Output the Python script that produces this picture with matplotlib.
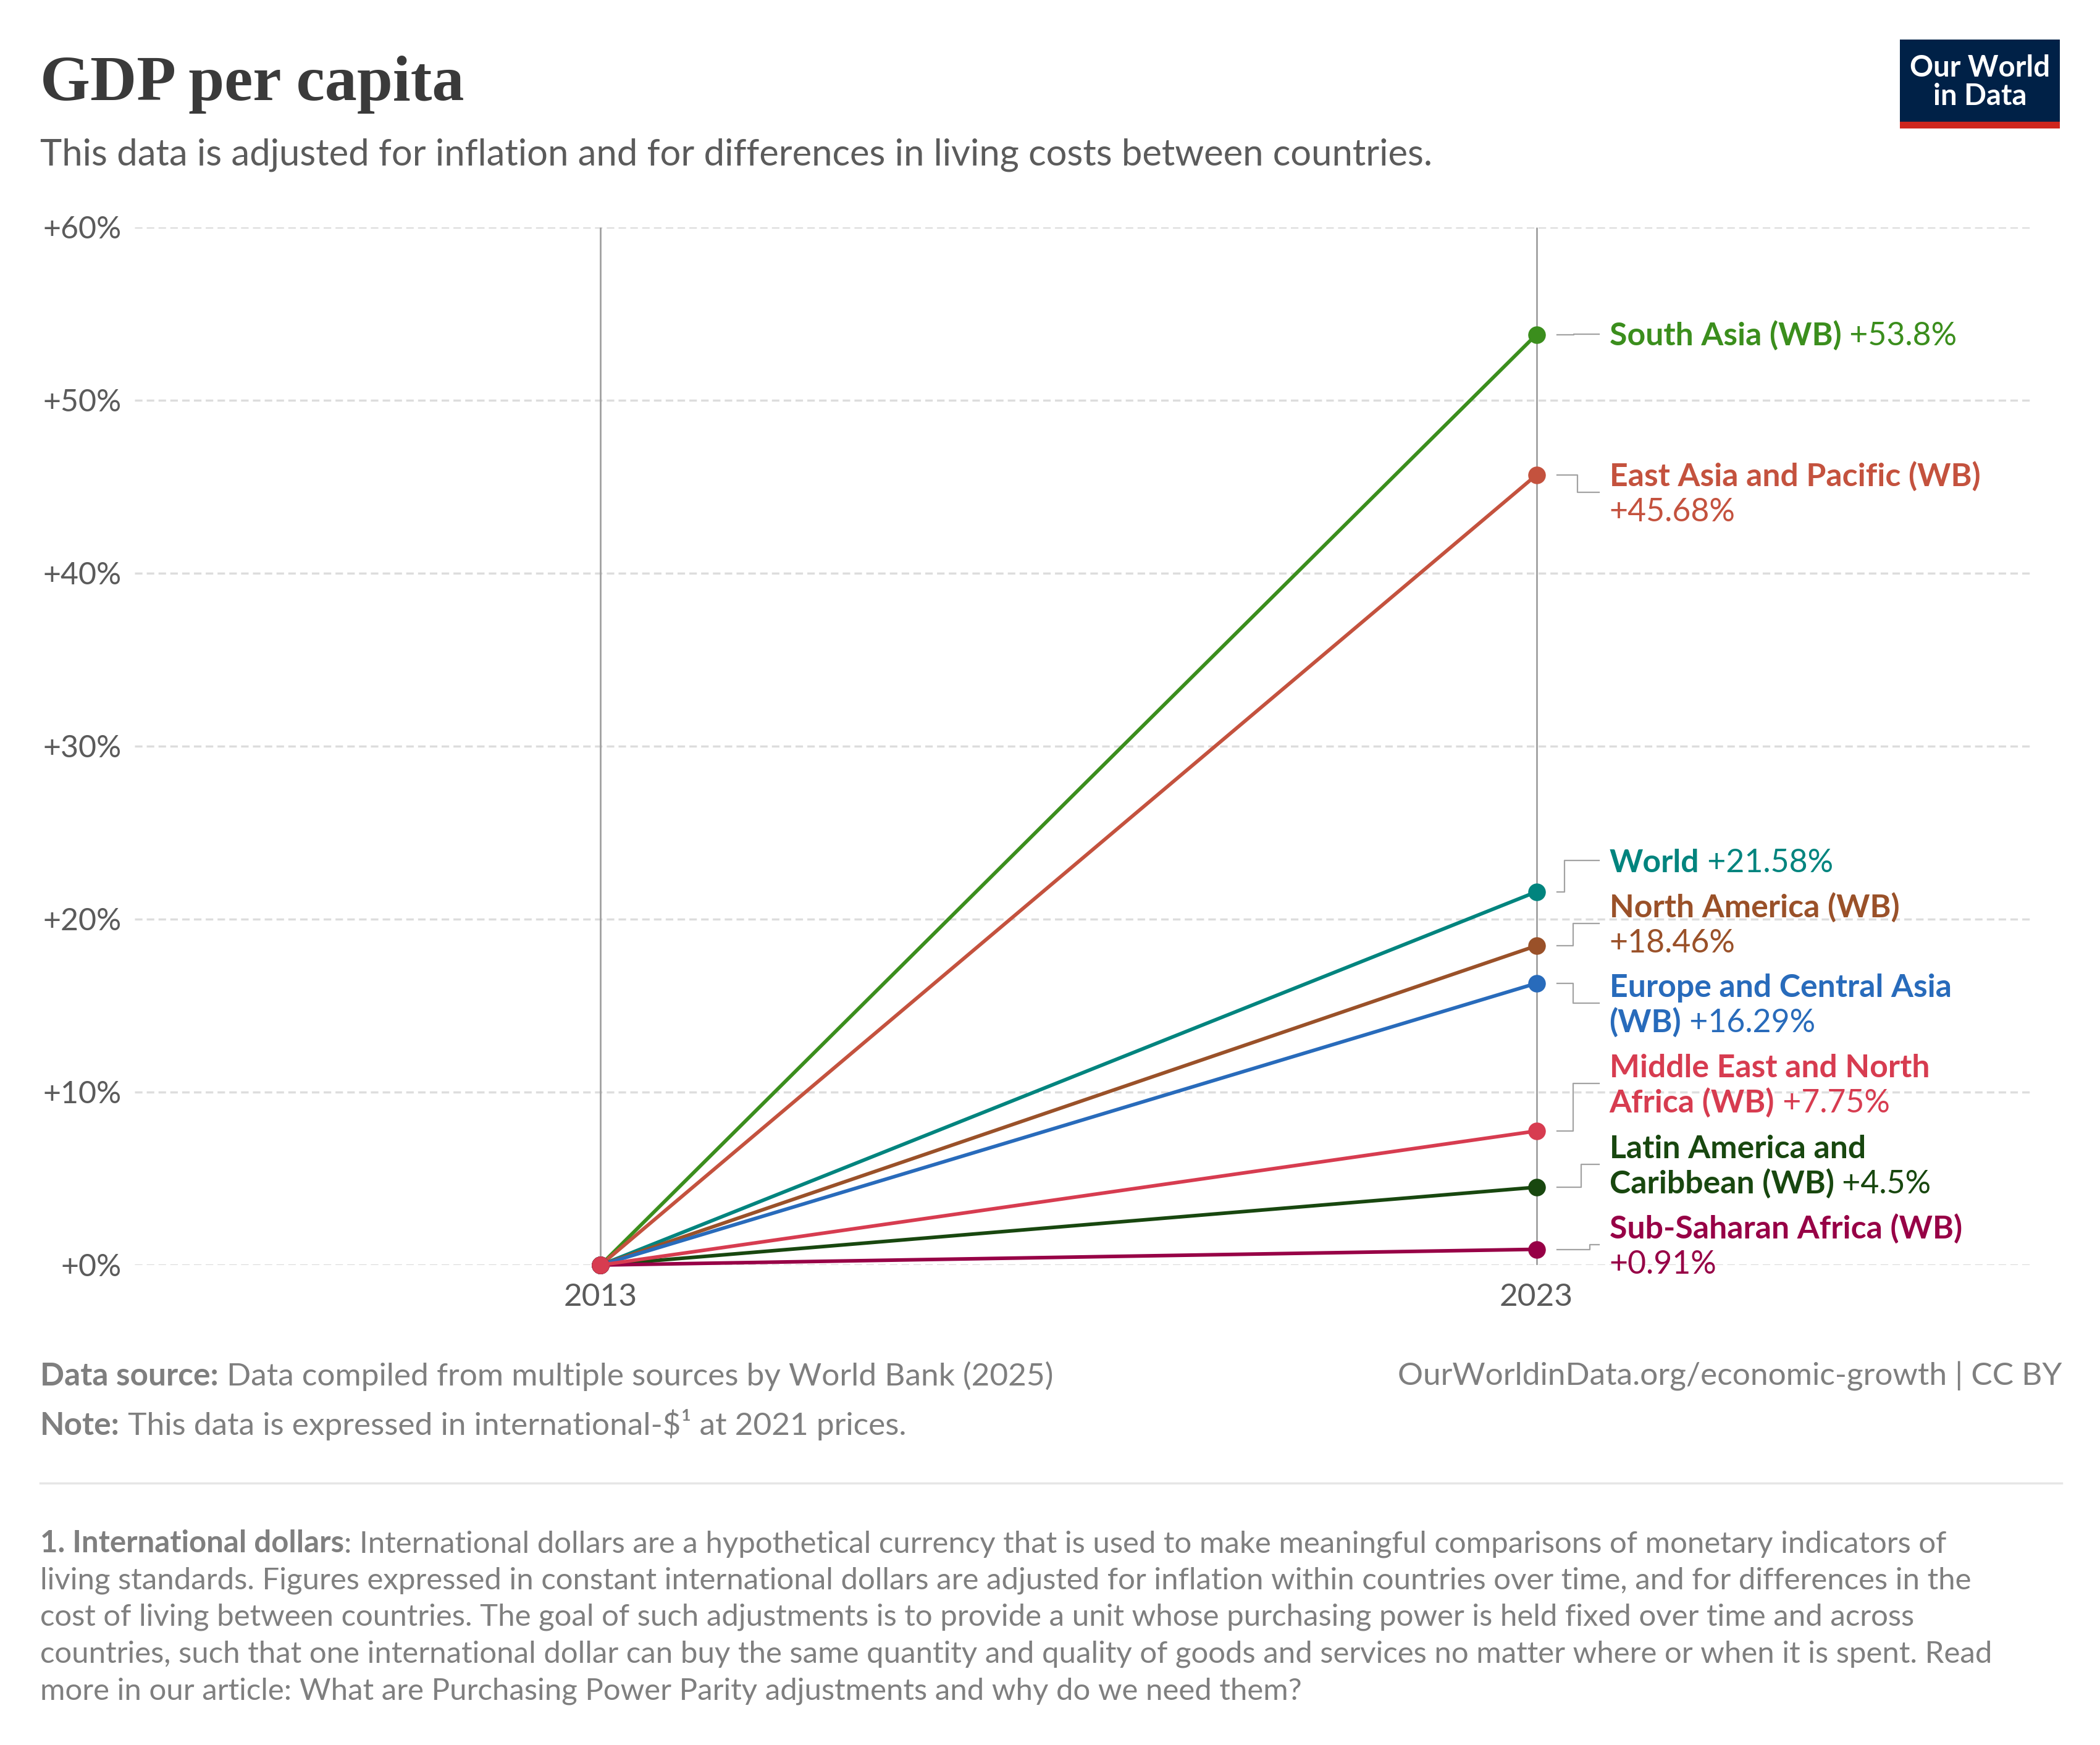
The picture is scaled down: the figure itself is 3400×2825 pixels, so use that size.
import matplotlib
matplotlib.use("Agg")
import matplotlib.pyplot as plt
import numpy as np
from matplotlib.patches import Rectangle

plt.rcParams['font.family'] = ['Lato', 'DejaVu Sans']

# data
years = [2013, 2023]
regions = ["South Asia (WB)", "East Asia and Pacific (WB)", "World",
           "North America (WB)", "Europe and Central Asia (WB)",
           "Middle East and North Africa (WB)", "Latin America and Caribbean (WB)",
           "Sub-Saharan Africa (WB)"]
start_change = [0, 0, 0, 0, 0, 0, 0, 0]
end_change = [53.8, 45.68, 21.58, 18.46, 16.29, 7.75, 4.5, 0.91]
colors = ["#3B8E1D", "#C4523E", "#00847E", "#9A5129", "#286BBB",
          "#D73C50", "#18470F", "#970046"]
yticks = [0, 10, 20, 30, 40, 50, 60]

# label wrapping (name lines) and whether the value starts a new line
name_lines = [["South Asia (WB)"],
              ["East Asia and Pacific (WB)"],
              ["World"],
              ["North America (WB)"],
              ["Europe and Central Asia", "(WB)"],
              ["Middle East and North", "Africa (WB)"],
              ["Latin America and", "Caribbean (WB)"],
              ["Sub-Saharan Africa (WB)"]]
value_newline = [False, True, False, True, False, False, False, True]

# layout of the labels (block centre in % units, elbow offset in years)
label_y = [53.83, 44.67, 23.39, 19.76, 15.13, 10.49, 5.81, 1.18]
elbow_dx = [0.40, 0.44, 0.30, 0.39, 0.39, 0.39, 0.475, 0.57]
draw_order = [0, 1, 2, 3, 4, 6, 7, 5]

W, H = 3400, 2825
fig = plt.figure(figsize=(W / 100, H / 100), dpi=100)

# background axes in pixel coordinates for the header / footer
bg = fig.add_axes([0, 0, 1, 1])
bg.set_xlim(0, W)
bg.set_ylim(H, 0)
bg.axis('off')

GRAY = '#5b5b5b'
FOOT = '#7f7f7f'


def rich(axis, x, y, parts, size, **kw):
    """Draw runs of (text, weight, color) one after another on one baseline."""
    first, weight, col = parts[0]
    t = axis.text(x, y, first, fontsize=size, fontweight=weight, color=col,
                  ha='left', va='baseline', clip_on=False, **kw)
    prev = t
    for s, weight, col in parts[1:]:
        prev = axis.annotate(s, xy=(1, y), xycoords=(prev, 'data'),
                             fontsize=size, fontweight=weight, color=col,
                             ha='left', va='baseline', annotation_clip=False, **kw)
    return t


# header
bg.text(65, 162, "GDP per capita", family=['Liberation Serif'], fontweight='bold',
        fontsize=75, color='#3a3a3a', ha='left', va='baseline')
bg.text(65, 268, "This data is adjusted for inflation and for differences in living costs between countries.",
        fontsize=43, color=GRAY, ha='left', va='baseline')

# logo
bg.add_patch(Rectangle((3076, 64), 259, 133, facecolor='#002147', edgecolor='none'))
bg.add_patch(Rectangle((3076, 197), 259, 11, facecolor='#CE261E', edgecolor='none'))
bg.text(3205.5, 124, "Our World", fontsize=34, fontweight='bold', color='white',
        ha='center', va='baseline')
bg.text(3205.5, 170, "in Data", fontsize=34, fontweight='bold', color='white',
        ha='center', va='baseline')

# main chart
ax = fig.add_axes([218 / W, 1 - 2048 / H, (3289 - 218) / W, (2048 - 368) / H])
ax.set_xlim(2008.02, 2028.29)
ax.set_ylim(0, 60)
for sp in ax.spines.values():
    sp.set_visible(False)
ax.set_yticks(yticks)
ax.set_yticklabels([f"+{v}%" for v in yticks])
ax.set_xticks(years)
ax.set_xticklabels([str(y) for y in years])
ax.tick_params(axis='y', length=0, pad=15, labelsize=36, labelcolor=GRAY)
ax.tick_params(axis='x', length=0, pad=21, labelsize=37, labelcolor=GRAY)
ax.grid(axis='y', color='#dddddd', lw=2.5, linestyle=(0, (3.5, 2)))
ax.set_axisbelow(True)
ax.vlines(years, 0, 60, color='#a0a0a0', lw=2, zorder=1.5)

for i in draw_order:
    ax.plot(years, [start_change[i], end_change[i]], color=colors[i], lw=4.2,
            marker='o', ms=19.5, clip_on=False, zorder=3, solid_capstyle='round')

# labels with elbow connectors
x_end = years[1]
line_h = 2.03
cap_half = 0.66
for i, name in enumerate(regions):
    v = end_change[i]
    yc = label_y[i]
    xe = x_end + elbow_dx[i]
    ax.plot([x_end + 0.224, xe, xe, x_end + 0.667], [v, v, yc, yc],
            color='#a3a3a3', lw=1.6, clip_on=False, zorder=2)

    val = f"+{v}%"
    lines = [[(s, 'bold', colors[i])] for s in name_lines[i]]
    if value_newline[i]:
        lines.append([(val, 'normal', colors[i])])
    else:
        lines[-1].append((" " + val, 'normal', colors[i]))
    n = len(lines)
    for k, parts in enumerate(lines):
        yb = yc + (n - 1) / 2 * line_h - k * line_h - cap_half
        rich(ax, x_end + 0.779, yb, parts, 37.3)

# footer
rich(bg, 65, 2243, [("Data source:", 'bold', FOOT),
                    (" Data compiled from multiple sources by World Bank (2025)", 'normal', FOOT)], 37)
bg.text(3338, 2243, "OurWorldinData.org/economic-growth | CC BY", fontsize=37,
        color=FOOT, ha='right', va='baseline')
rich(bg, 65, 2323, [("Note:", 'bold', FOOT),
                    (" This data is expressed in international-$¹ at 2021 prices.", 'normal', FOOT)], 37)
bg.plot([65, 3338], [2401, 2401], color='#e6e6e6', lw=2.5)

footnote = [
    "International dollars are a hypothetical currency that is used to make meaningful comparisons of monetary indicators of",
    "living standards. Figures expressed in constant international dollars are adjusted for inflation within countries over time, and for differences in the",
    "cost of living between countries. The goal of such adjustments is to provide a unit whose purchasing power is held fixed over time and across",
    "countries, such that one international dollar can buy the same quantity and quality of goods and services no matter where or when it is spent. Read",
    "more in our article: What are Purchasing Power Parity adjustments and why do we need them?",
]
fn_y = 2513
rich(bg, 65, fn_y, [("1. International dollars", 'bold', FOOT),
                    (": " + footnote[0], 'normal', FOOT)], 35.4)
for k, line in enumerate(footnote[1:], start=1):
    bg.text(65, fn_y + k * 59.5, line, fontsize=35.4, color=FOOT, ha='left', va='baseline')

fig.savefig("out.png", dpi=100)
